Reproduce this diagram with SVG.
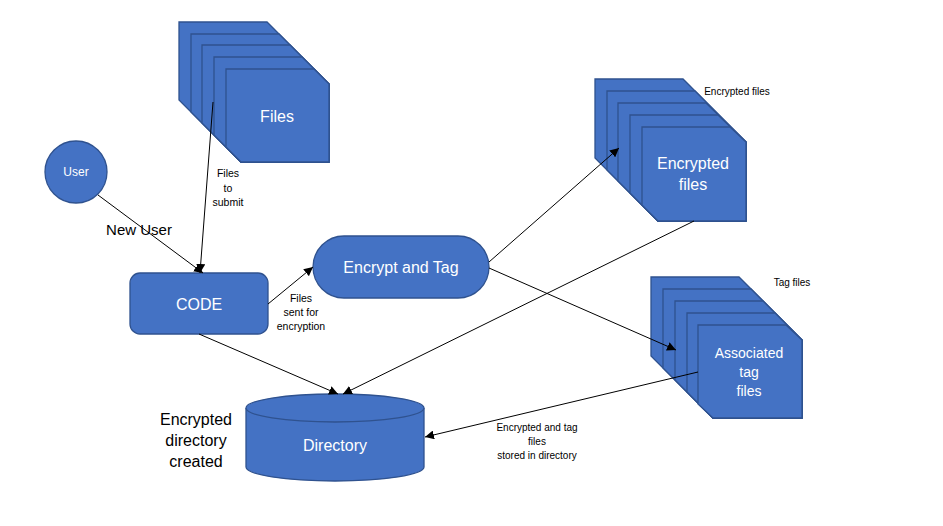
<svg xmlns="http://www.w3.org/2000/svg" width="943" height="526" viewBox="0 0 943 526">
<style>
.n{fill:#4472C4;stroke:#2F528F;stroke-width:1.3}
.wt{fill:#fff;font-family:"Liberation Sans",Arial,sans-serif;text-anchor:middle}
.bt{fill:#000;font-family:"Liberation Sans",Arial,sans-serif;text-anchor:middle}
.c{stroke:#000;stroke-width:1;fill:none;marker-end:url(#ah)}
</style>
<defs>
<marker id="ah" viewBox="0 0 10 10" refX="10" refY="5" markerWidth="9" markerHeight="9" markerUnits="userSpaceOnUse" orient="auto">
<path d="M0,0 L10,5 L0,10 z" fill="#000"/>
</marker>
</defs>
<rect width="943" height="526" fill="#fff"/>

<g id="files">
<polygon class="n" points="179,22 267,22 329,84 329,162 241,162 179,100"/>
<polygon class="n" points="191,34 279,34 329,84 329,162 241,162 191,112"/>
<polygon class="n" points="202,45 290,45 329,84 329,162 241,162 202,123"/>
<polygon class="n" points="214,57 302,57 329,84 329,162 241,162 214,135"/>
<polygon class="n" points="226,69 314,69 329,84 329,162 241,162 226,147"/>
<text class="wt" x="277" y="122" font-size="16">Files</text>
</g>

<g id="encfiles">
<polygon class="n" points="595,79 683,79 746,142 746,221 658,221 595,158"/>
<polygon class="n" points="607,91 695,91 746,142 746,221 658,221 607,170"/>
<polygon class="n" points="618,103 706,103 746,142 746,221 658,221 618,181"/>
<polygon class="n" points="630,115 718,115 746,142 746,221 658,221 630,193"/>
<polygon class="n" points="642,127 730,127 746,142 746,221 658,221 642,205"/>
<text class="wt" x="693" y="169" font-size="16">Encrypted</text>
<text class="wt" x="693" y="190" font-size="16">files</text>
<text class="bt" x="737" y="95" font-size="10">Encrypted files</text>
</g>

<g id="tagfiles">
<polygon class="n" points="651,277 739,277 802,340 802,418 713,418 651,356"/>
<polygon class="n" points="663,289 751,289 802,340 802,418 713,418 663,368"/>
<polygon class="n" points="675,301 763,301 802,340 802,418 713,418 675,380"/>
<polygon class="n" points="687,313 775,313 802,340 802,418 713,418 687,392"/>
<polygon class="n" points="698,325 786,325 802,340 802,418 713,418 698,404"/>
<text class="wt" x="749" y="358" font-size="14">Associated</text>
<text class="wt" x="749" y="377" font-size="14">tag</text>
<text class="wt" x="749" y="396" font-size="14">files</text>
<text class="bt" x="792" y="286" font-size="10">Tag files</text>
</g>

<g id="user">
<circle class="n" cx="76" cy="172" r="31"/>
<text class="wt" x="76" y="176" font-size="12">User</text>
</g>

<g id="code">
<rect class="n" x="130" y="273" width="138" height="61" rx="10"/>
<text class="wt" x="199" y="310" font-size="16">CODE</text>
</g>

<g id="encrypt">
<rect class="n" x="313" y="236" width="176" height="62" rx="31"/>
<text class="wt" x="401" y="273" font-size="16">Encrypt and Tag</text>
</g>

<g id="directory">
<path class="n" d="M246,408 V467 A89,14 0 0 0 424,467 V408"/>
<ellipse class="n" cx="335" cy="408" rx="89" ry="14"/>
<text class="wt" x="335" y="451" font-size="16">Directory</text>
</g>

<g id="labels">
<text class="bt" x="139" y="235" font-size="15">New User</text>
<text class="bt" x="196" y="425" font-size="16">Encrypted</text>
<text class="bt" x="196" y="446" font-size="16">directory</text>
<text class="bt" x="196" y="467" font-size="16">created</text>
<text class="bt" x="228" y="177" font-size="10.5">Files</text>
<text class="bt" x="228" y="192" font-size="10.5">to</text>
<text class="bt" x="228" y="206" font-size="10.5">submit</text>
<text class="bt" x="301" y="302" font-size="10.5">Files</text>
<text class="bt" x="301" y="316" font-size="10.5">sent for</text>
<text class="bt" x="301" y="330" font-size="10.5">encryption</text>
<text class="bt" x="537" y="431" font-size="10">Encrypted and tag</text>
<text class="bt" x="537" y="445" font-size="10">files</text>
<text class="bt" x="537" y="459" font-size="10">stored in directory</text>
</g>

<g id="connectors">
<line class="c" x1="98" y1="195" x2="203" y2="273"/>
<line class="c" x1="213" y1="102" x2="200" y2="273"/>
<line class="c" x1="268" y1="304" x2="313" y2="267"/>
<line class="c" x1="489" y1="262" x2="619" y2="148"/>
<line class="c" x1="489" y1="268" x2="676" y2="350"/>
<line class="c" x1="694" y1="221" x2="343" y2="394"/>
<line class="c" x1="199" y1="334" x2="338" y2="394"/>
<line class="c" x1="698" y1="372" x2="425" y2="437"/>
</g>
</svg>
